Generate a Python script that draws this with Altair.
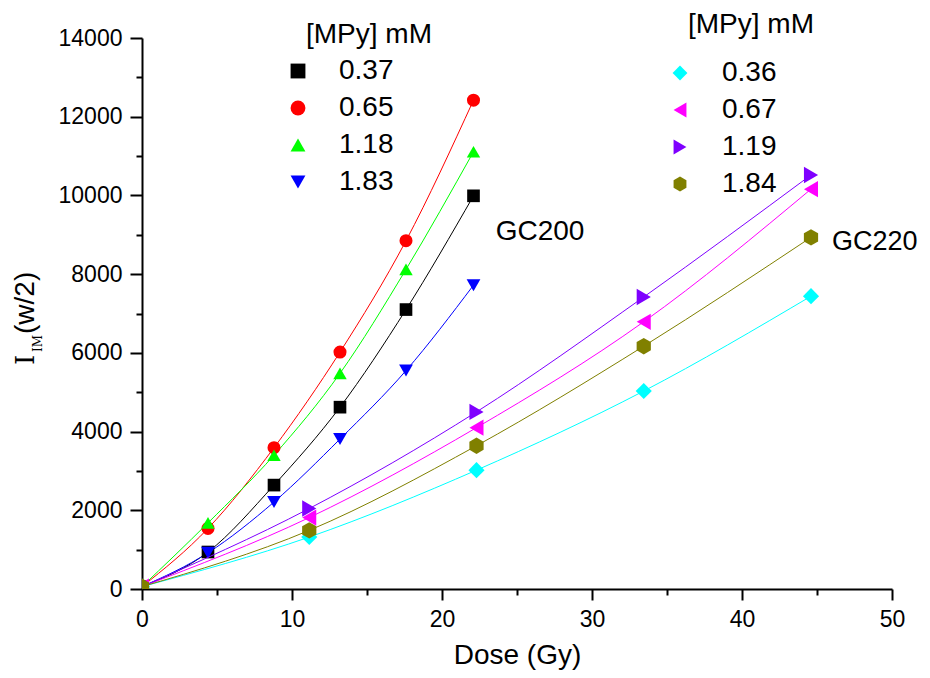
import altair as alt
import pandas as pd

# ---------------- data ----------------
dose_gc200 = [0, 4.4, 8.8, 13.2, 17.6, 22.1]
labels_gc200 = ["0.37", "0.65", "1.18", "1.83"]
vals_037 = [60, 940, 2640, 4620, 7100, 9990]
vals_065 = [60, 1540, 3590, 6020, 8850, 12420]
vals_118 = [60, 1680, 3400, 5480, 8120, 11110]
vals_183 = [60, 920, 2210, 3810, 5550, 7720]

dose_gc220 = [0, 11.15, 22.3, 33.45, 44.6]
labels_gc220 = ["0.36", "0.67", "1.19", "1.84"]
vals_036 = [60, 1320, 3020, 5030, 7440]
vals_067 = [60, 1815, 4100, 6790, 10160]
vals_119 = [60, 2045, 4500, 7420, 10520]
vals_184 = [60, 1490, 3640, 6170, 8935]

x_ticks = list(range(0, 51, 5))
y_ticks = list(range(0, 14001, 1000))

legend_heading = "[MPy] mM"
group_names = ["GC200", "GC220"]

# ---------------- styles ----------------
FONT = "Liberation Sans"
colors_gc200 = ["#000000", "#ff0000", "#00ff00", "#0000ff"]
colors_gc220 = ["#00ffff", "#ff00ff", "#7f00ff", "#808000"]
HEXAGON = "M0,-1L0.866,-0.5L0.866,0.5L0,1L-0.866,0.5L-0.866,-0.5Z"
shapes_gc200 = ["square", "circle", "triangle-up", "triangle-down"]
shapes_gc220 = ["diamond", "triangle-left", "triangle-right", HEXAGON]
sizes_gc200 = [160, 190, 260, 260]
sizes_gc220 = [260, 270, 270, 240]


def frame(dose, labels, series):
    rows = []
    for lab, vals in zip(labels, series):
        for d, v in zip(dose, vals):
            rows.append({"dose": d, "val": v, "conc": lab,
                         "line_id": "L" + lab, "size_id": "S" + lab})
    return pd.DataFrame(rows)


df200 = frame(dose_gc200, labels_gc200, [vals_037, vals_065, vals_118, vals_183])
df220 = frame(dose_gc220, labels_gc220, [vals_036, vals_067, vals_119, vals_184])

x_axis = alt.Axis(
    values=x_ticks,
    labelExpr="datum.value % 10 === 0 ? datum.label : ''",
    tickSize={"condition": {"test": "datum.value % 10 === 0", "value": 11}, "value": 6},
    grid=False, domainColor="black", domainWidth=2, tickColor="black", tickWidth=2,
    labelFont=FONT, labelFontSize=23, labelColor="black", labelPadding=8,
    labelFlush=False, labelOverlap=False,
    title="Dose (Gy)", titleFont=FONT, titleFontSize=28, titleFontWeight="normal",
    titleColor="black", titleY=74, titleBaseline="alphabetic",
)
y_axis = alt.Axis(
    values=y_ticks, format="d",
    labelExpr="datum.value % 2000 === 0 ? datum.label : ''",
    tickSize={"condition": {"test": "datum.value % 2000 === 0", "value": 12}, "value": 6},
    grid=False, domainColor="black", domainWidth=2, tickColor="black", tickWidth=2,
    labelFont=FONT, labelFontSize=23, labelColor="black", labelPadding=8,
    labelFlush=False, labelOverlap=False, title=None,
)

X = alt.X("dose:Q", scale=alt.Scale(domain=[0, 50], nice=False), axis=x_axis)
Y = alt.Y("val:Q", scale=alt.Scale(domain=[0, 14000], nice=False), axis=y_axis)


def group(df, labels, colors, shapes, sizes, lx, ly, loff):
    leg = alt.Legend(
        title=None, orient="none", legendX=lx, legendY=ly,
        labelFont=FONT, labelFontSize=28, labelColor="black", labelOffset=loff,
        symbolSize=220, symbolStrokeWidth=0, rowPadding=9, symbolOpacity=1,
    )
    base = alt.Chart(df)
    lines = base.mark_line(strokeWidth=1, interpolate="monotone").encode(
        x=X, y=Y,
        stroke=alt.Stroke("line_id:N",
                          scale=alt.Scale(domain=["L" + l for l in labels], range=colors),
                          legend=None),
        detail="line_id:N",
    )
    pts = base.mark_point(filled=True, opacity=1, clip=True).encode(
        x=X, y=Y,
        color=alt.Color("conc:N", scale=alt.Scale(domain=labels, range=colors), legend=leg),
        shape=alt.Shape("conc:N", scale=alt.Scale(domain=labels, range=shapes), legend=leg),
        size=alt.Size("size_id:N",
                      scale=alt.Scale(domain=["S" + l for l in labels], range=sizes),
                      legend=None),
    )
    return alt.layer(lines, pts)


g200 = group(df200, labels_gc200, colors_gc200, shapes_gc200, sizes_gc200, 142, 19, 27)
g220 = group(df220, labels_gc220, colors_gc220, shapes_gc220, sizes_gc220, 524, 21, 28)


def txt(s, x, y, size, font=FONT, align="left", angle=0):
    kw = dict(align=align, baseline="alphabetic", font=font, fontSize=size, color="black")
    if angle:
        kw["angle"] = angle
    return alt.Chart(pd.DataFrame({"t": [s]})).mark_text(**kw).encode(
        x=alt.value(x), y=alt.value(y), text="t:N"
    )


texts = [
    txt(legend_heading, 164, 5, 28),
    txt(legend_heading, 546, -5, 28),
    txt(group_names[0], 398, 202, 28, align="center"),
    txt(group_names[1], 690, 212, 27),
    txt("I", -108, 327, 26, font="DejaVu Serif", angle=270),
    txt("IM", -100, 314, 12, font="DejaVu Serif", angle=270),
    txt("(w/2)", -108, 296, 28, angle=270),
]

chart = (
    alt.layer(g200, g220, *texts)
    .resolve_scale(color="independent", shape="independent",
                   stroke="independent", size="independent")
    .properties(
        width=750, height=551,
        autosize=alt.AutoSizeParams(type="none"),
        padding={"left": 134, "top": 30, "right": 30, "bottom": 81},
        background="white",
    )
    .configure_view(stroke=None)
)

chart.save("out.html", embed_options={"renderer": "svg", "actions": False})
